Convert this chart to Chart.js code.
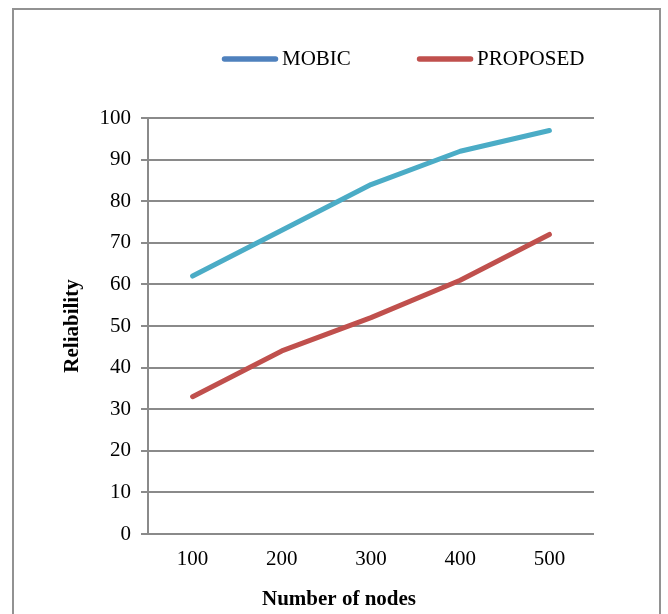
<!DOCTYPE html>
<html>
<head>
<meta charset="utf-8">
<title>Reliability vs number of nodes</title>
<script src="https://cdn.jsdelivr.net/npm/chart.js@4/dist/chart.umd.min.js"></script>
<style>
  html, body { margin: 0; padding: 0; background: #ffffff; overflow: hidden; }
  #wrap { position: relative; width: 668px; height: 614px; }
  #frame { position: absolute; left: 12px; top: 8px; width: 645px; height: 620px; border: 2px solid #929292; }
  #chart { position: absolute; left: 0; top: 0; }
</style>
</head>
<body>
<div id="wrap">
  <div id="frame"></div>
  <canvas id="chart" width="668" height="614"></canvas>
</div>
<script>
// Categories and series
const nodeCounts = ['100', '200', '300', '400', '500'];
const seriesNames = ['MOBIC', 'PROPOSED'];
const mobicReliability = [62, 73, 84, 92, 97];
const proposedReliability = [33, 44, 52, 61, 72];

const FONT = '"Liberation Serif", "Times New Roman", serif';
const GRID = '#8a8a8a';

// Legend drawn as a row of thick line samples above the plot
const lineLegend = {
  id: 'lineLegend',
  afterDraw(chart) {
    const ctx = chart.ctx;
    const y = 59;
    let x = 224.5;
    ctx.save();
    ctx.font = '21px ' + FONT;
    ctx.textBaseline = 'middle';
    ctx.textAlign = 'left';
    chart.data.datasets.forEach((ds) => {
      ctx.strokeStyle = ds.legendColor;
      ctx.lineWidth = 5.5;
      ctx.lineCap = 'round';
      ctx.beginPath();
      ctx.moveTo(x, y);
      ctx.lineTo(x + 51, y);
      ctx.stroke();
      ctx.fillStyle = '#000000';
      ctx.fillText(ds.label, x + 57.5, y);
      x += 57.5 + ctx.measureText(ds.label).width + 68.7;
    });
    ctx.restore();
  }
};

new Chart(document.getElementById('chart'), {
  type: 'line',
  data: {
    labels: nodeCounts,
    datasets: [
      {
        label: seriesNames[0],
        data: mobicReliability,
        borderColor: '#4BACC6',
        legendColor: '#4F81BD',
        borderWidth: 5,
        borderCapStyle: 'round',
        borderJoinStyle: 'round',
        pointRadius: 0,
        tension: 0,
        fill: false
      },
      {
        label: seriesNames[1],
        data: proposedReliability,
        borderColor: '#C0504D',
        legendColor: '#C0504D',
        borderWidth: 5,
        borderCapStyle: 'round',
        borderJoinStyle: 'round',
        pointRadius: 0,
        tension: 0,
        fill: false
      }
    ]
  },
  options: {
    responsive: false,
    devicePixelRatio: 1,
    animation: false,
    layout: { padding: { left: 84, right: 74, top: 118, bottom: 0 } },
    plugins: {
      legend: { display: false },
      tooltip: { enabled: false },
      title: {
        display: true,
        position: 'bottom',
        text: 'Number of nodes',
        color: '#000000',
        font: { family: FONT, size: 21, weight: 'bold', lineHeight: 1.2 },
        padding: { top: 8.4, bottom: 1.4 }
      }
    },
    scales: {
      x: {
        offset: true,
        grid: { display: false, drawTicks: false },
        border: { display: false },
        ticks: { color: '#000000', padding: 13, font: { family: FONT, size: 21 }, maxRotation: 0 },
        afterFit(scale) { scale.height = 45; scale.paddingLeft = 0; }
      },
      y: {
        min: 0,
        max: 100,
        ticks: { stepSize: 10, color: '#000000', padding: 10, font: { family: FONT, size: 21 } },
        grid: { color: GRID, lineWidth: 2, tickLength: 7, drawTicks: true },
        border: { display: true, color: GRID, width: 2 },
        title: {
          display: true,
          text: 'Reliability',
          color: '#000000',
          font: { family: FONT, size: 21, weight: 'bold', lineHeight: 1.2 },
          padding: { top: -23.6, bottom: 0 }
        },
        afterFit(scale) { scale.width = 64; }
      }
    }
  },
  plugins: [lineLegend]
});
</script>
</body>
</html>
